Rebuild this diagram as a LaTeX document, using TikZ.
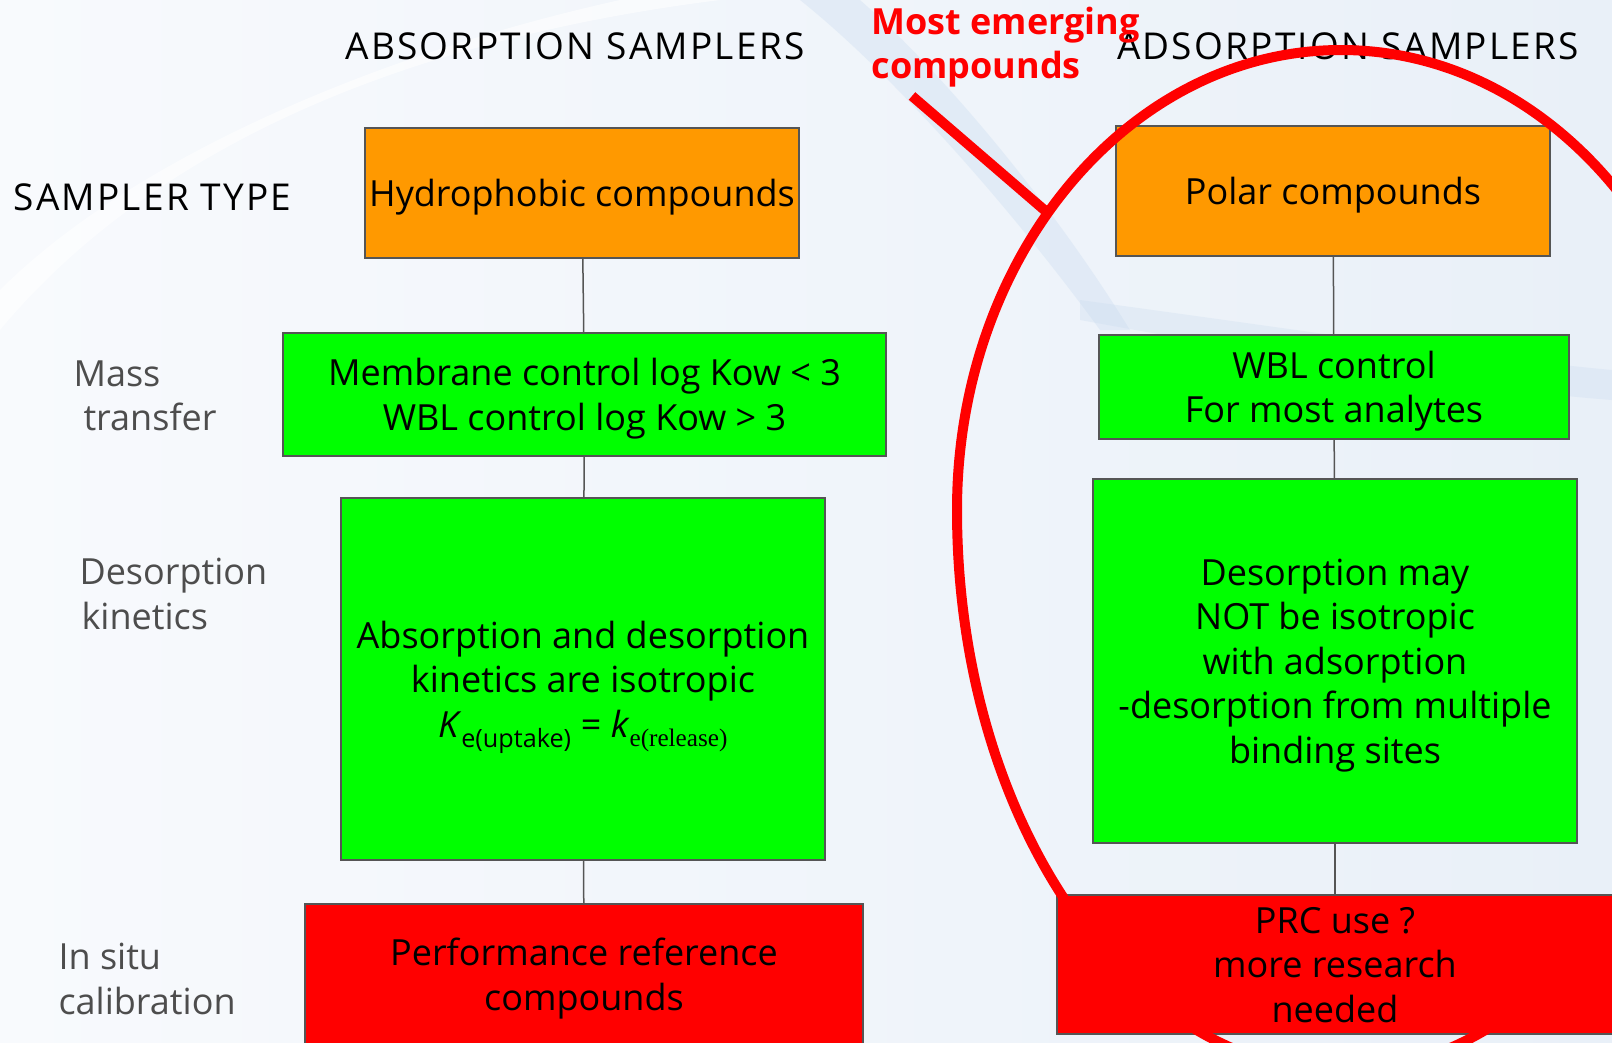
\documentclass[tikz,border=0pt]{standalone}
\usepackage{fontspec}
\setmainfont{Open Sans}
\newfontfamily\relfont{Liberation Serif}
\newcommand\boxfont{\fontsize{36}{44.5}\selectfont}
\newcommand\headfont{\fontsize{37}{44.5}\selectfont\addfontfeature{LetterSpace=6}}

\definecolor{boxgray}{HTML}{555555}
\definecolor{labelgray}{HTML}{4D4D4D}
\definecolor{orangefill}{HTML}{FF9900}
\definecolor{greenfill}{HTML}{00FF00}
\definecolor{redfill}{HTML}{FF0000}
\definecolor{bgleft}{HTML}{F8FAFD}
\definecolor{bgright}{HTML}{E9F0F8}
\definecolor{swoosh}{HTML}{C9DBEF}

\begin{document}
\begin{tikzpicture}[x=1pt, y=-1pt,
  box/.style={draw=boxgray, line width=2pt, inner sep=0pt, align=center, text depth=0pt, font=\boxfont},
  orangebox/.style={box, fill=orangefill},
  greenbox/.style={box, fill=greenfill},
  redbox/.style={box, fill=redfill},
  rowlabel/.style={anchor=west, align=left, text=labelgray, font=\boxfont},
  header/.style={font=\headfont},
  link/.style={draw=boxgray, line width=1.5pt}]

  \useasboundingbox (0,0) rectangle (1612,1042);
  \clip (0,0) rectangle (1612,1042);

  % === Background ===
  \shade[left color=bgleft, right color=bgright] (0,0) rectangle (1612,1042);
  \fill[white, opacity=0.6] (0,330) .. controls (150,150) and (400,40) .. (720,0)
    -- (620,0) .. controls (350,60) and (120,170) .. (0,290) -- cycle;
  \fill[swoosh, opacity=0.35] (800,0) .. controls (900,80) and (1020,220) .. (1100,330)
    -- (1130,330) .. controls (1050,200) and (940,70) .. (860,0) -- cycle;
  \fill[swoosh, opacity=0.3] (1080,300) .. controls (1300,330) and (1500,360) .. (1612,370)
    -- (1612,400) .. controls (1480,390) and (1300,360) .. (1080,320) -- cycle;

  % === Column headers ===
  \node[header] (absorb) at (575,46) {ABSORPTION SAMPLERS};
  \node[header] (adsorb) at (1348,46) {ADSORPTION SAMPLERS};

  % === Row labels ===
  \node[rowlabel, text=black, font=\headfont] (type) at (10,197) {SAMPLER TYPE};
  \node[rowlabel] (mass) at (70,396) {Mass\\\hspace{10pt}transfer};
  \node[rowlabel] (desorb) at (76,594) {Desorption\\\hspace{2pt}kinetics};
  \node[rowlabel] (insitu) at (55,979) {In situ\\calibration};

  % === Absorption samplers ===
  \node[orangebox, minimum width=434pt, minimum height=130pt] (hydro) at (582,193)
    {Hydrophobic compounds};
  \node[greenbox, minimum width=603pt, minimum height=123pt] (memb) at (584.5,394.5)
    {Membrane control log Kow < 3\\WBL control log Kow > 3};
  \node[greenbox, minimum width=484pt, minimum height=362pt] (iso) at (583,679)
    {Absorption and desorption\\kinetics are isotropic\\
     \textit{K}\textsubscript{e(uptake)} = \textit{k}\textsubscript{\relfont e(release)}};
  \node[redbox, minimum width=558pt, minimum height=140pt] (prc) at (584,974)
    {Performance reference\\compounds};

  \draw[link] (hydro) -- (memb);
  \draw[link] (memb) -- (iso);
  \draw[link] (iso) -- (prc);

  % === Adsorption samplers ===
  \node[orangebox, minimum width=434pt, minimum height=130pt] (polar) at (1333,191)
    {Polar compounds};
  \node[greenbox, minimum width=470pt, minimum height=104pt] (wbl) at (1334,387)
    {WBL control\\For most analytes};
  \node[greenbox, minimum width=484pt, minimum height=364pt] (multi) at (1335,661)
    {Desorption may\\NOT be isotropic\\with adsorption\\-desorption from multiple\\binding sites};
  \node[redbox, minimum width=556pt, minimum height=139pt] (prcuse) at (1335,964.5)
    {PRC use ?\\more research\\needed};

  \draw[link] (polar) -- (wbl);
  \draw[link] (wbl) -- (multi);
  \draw[link] (multi) -- (prcuse);

  % === Emerging compounds mark ===
  \node[anchor=west, align=left, text=redfill, font=\boxfont\bfseries] (emerg) at (868,47)
    {Most emerging\\compounds};
  \coordinate (tip) at (1049,214);
  \draw[redfill, line width=10pt] (912,96) -- (tip);
  \draw[redfill, line width=10pt] (957,510) arc[start angle=180, end angle=0,
      x radius=384pt, y radius=460pt]
    arc[start angle=0, end angle=-180, x radius=384pt, y radius=561pt];

\end{tikzpicture}
\end{document}
